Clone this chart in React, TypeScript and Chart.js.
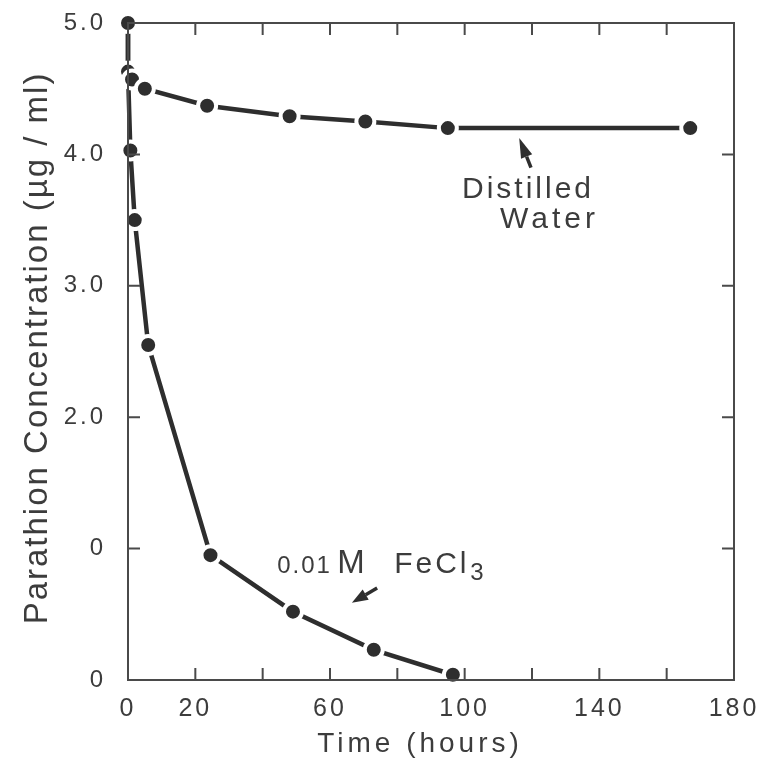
import { useEffect, useRef } from 'react';
import { Chart, registerables } from 'chart.js';

Chart.register(...registerables);

// Time (hours) and parathion concentration (µg/ml)
const waterTime = [0, 0, 1.2, 5, 23.5, 48, 70.5, 95, 167];
const waterConc = [5.0, 4.63, 4.57, 4.5, 4.37, 4.29, 4.25, 4.2, 4.2];
const ferricTime = [0, 0, 0.7, 2, 6, 24.5, 49, 73, 96.5];
const ferricConc = [5.0, 4.63, 4.03, 3.5, 2.55, 0.95, 0.52, 0.23, 0.04];

const xTickLabels = ['0', '20', '', '60', '', '100', '', '140', '', '180'];
const yTickLabels = ['0', '0', '2.0', '3.0', '4.0', '5.0'];

const INK = '#2e2e2e';
const TEXT = '#3c3c3c';
const FONT = "'Liberation Sans', Arial, sans-serif";

function drawArrow(ctx: CanvasRenderingContext2D, fx: number, fy: number, tx: number, ty: number, headLen: number, headW: number) {
  const ang = Math.atan2(ty - fy, tx - fx);
  const bx = tx - Math.cos(ang) * headLen;
  const by = ty - Math.sin(ang) * headLen;
  ctx.beginPath();
  ctx.moveTo(fx, fy);
  ctx.lineTo(bx, by);
  ctx.lineWidth = 3.5;
  ctx.strokeStyle = INK;
  ctx.stroke();
  ctx.beginPath();
  ctx.moveTo(tx, ty);
  ctx.lineTo(bx + Math.sin(ang) * headW / 2, by - Math.cos(ang) * headW / 2);
  ctx.lineTo(bx - Math.sin(ang) * headW / 2, by + Math.cos(ang) * headW / 2);
  ctx.closePath();
  ctx.fillStyle = INK;
  ctx.fill();
}

const spacingPlugin = {
  id: 'spacing',
  beforeDraw(chart: any) {
    chart.ctx.letterSpacing = '3px';
  },
  afterDraw(chart: any) {
    chart.ctx.letterSpacing = '0px';
  },
};

const decorPlugin = {
  id: 'decor',
  afterDatasetsDraw(chart: any) {
    const { ctx, chartArea: a, scales } = chart;
    const xs = scales.x;
    const ys = scales.y;
    ctx.save();
    // frame
    ctx.strokeStyle = '#4a4a4a';
    ctx.lineWidth = 2;
    ctx.strokeRect(a.left, a.top, a.right - a.left, a.bottom - a.top);
    // inward ticks
    ctx.beginPath();
    xs.ticks.forEach((t: any) => {
      if (t.value <= xs.min || t.value >= xs.max) return;
      const px = xs.getPixelForValue(t.value);
      ctx.moveTo(px, a.bottom);
      ctx.lineTo(px, a.bottom - 12);
      ctx.moveTo(px, a.top);
      ctx.lineTo(px, a.top + 12);
    });
    ys.ticks.forEach((t: any) => {
      if (t.value <= ys.min || t.value >= ys.max) return;
      const py = ys.getPixelForValue(t.value);
      ctx.moveTo(a.left, py);
      ctx.lineTo(a.left + 12, py);
      ctx.moveTo(a.right, py);
      ctx.lineTo(a.right - 12, py);
    });
    ctx.stroke();

    // axis titles
    ctx.fillStyle = TEXT;
    ctx.letterSpacing = '4px';
    ctx.font = `28px ${FONT}`;
    ctx.textAlign = 'center';
    ctx.textBaseline = 'alphabetic';
    ctx.fillText('Time (hours)', 420, 752);

    ctx.save();
    ctx.translate(47, 348);
    ctx.rotate(-Math.PI / 2);
    ctx.letterSpacing = '2px';
    ctx.font = `33px ${FONT}`;
    ctx.fillText('Parathion Concentration (µg / ml)', 0, 0);
    ctx.restore();

    // annotations
    ctx.textAlign = 'left';
    ctx.letterSpacing = '3px';
    ctx.font = `30px ${FONT}`;
    ctx.fillText('Distilled', xs.getPixelForValue(99.2), ys.getPixelForValue(3.67));
    ctx.letterSpacing = '4px';
    ctx.fillText('Water', xs.getPixelForValue(110.5), ys.getPixelForValue(3.44));

    const fx = xs.getPixelForValue(44.3);
    const fy = ys.getPixelForValue(0.814);
    ctx.letterSpacing = '2px';
    ctx.font = `24px ${FONT}`;
    ctx.fillText('0.01', fx, fy);
    ctx.letterSpacing = '0px';
    ctx.font = `33px ${FONT}`;
    ctx.fillText('M', fx + 60, fy);
    ctx.letterSpacing = '3px';
    ctx.font = `30px ${FONT}`;
    ctx.fillText('FeCl', fx + 117, fy);
    ctx.letterSpacing = '0px';
    ctx.font = `24px ${FONT}`;
    ctx.fillText('3', fx + 193, fy + 7);

    drawArrow(ctx, xs.getPixelForValue(119.7), ys.getPixelForValue(3.9), xs.getPixelForValue(116.2), ys.getPixelForValue(4.125), 20, 12);
    drawArrow(ctx, xs.getPixelForValue(74), ys.getPixelForValue(0.7), xs.getPixelForValue(66.5), ys.getPixelForValue(0.588), 16, 12);

    ctx.restore();
  },
};

export default function App() {
  const ref = useRef<HTMLCanvasElement | null>(null);

  useEffect(() => {
    if (!ref.current) return;
    const toPts = (xs: number[], ys: number[]) => xs.map((x, i) => ({ x, y: ys[i] }));
    const common = {
      showLine: true,
      borderColor: INK,
      borderWidth: 4.5,
      pointRadius: 9,
      pointBorderWidth: 4,
      pointBackgroundColor: INK,
      pointBorderColor: '#ffffff',
      pointHoverRadius: 9,
      clip: false as const,
      tension: 0,
    };
    const chart = new Chart(ref.current, {
      type: 'scatter',
      data: {
        datasets: [
          { label: 'Distilled Water', data: toPts(waterTime, waterConc), ...common },
          { label: '0.01M FeCl3', data: toPts(ferricTime, ferricConc), ...common },
        ],
      },
      options: {
        animation: false,
        responsive: false,
        maintainAspectRatio: false,
        layout: { padding: { top: 23, right: 30, left: 0, bottom: 0 } },
        plugins: { legend: { display: false }, tooltip: { enabled: false } },
        scales: {
          x: {
            type: 'linear',
            min: 0,
            max: 180,
            grid: { display: false, drawTicks: false },
            border: { display: false },
            ticks: {
              stepSize: 20,
              padding: 14,
              autoSkip: false,
              maxRotation: 0,
              color: TEXT,
              font: { family: FONT, size: 25 },
              callback: (v: any) => xTickLabels[Math.round(Number(v) / 20)] ?? '',
            },
            afterFit: (s: any) => {
              s.height = 78;
              s.paddingLeft = 0;
              s.paddingRight = 0;
            },
          },
          y: {
            type: 'linear',
            min: 0,
            max: 5,
            grid: { display: false, drawTicks: false },
            border: { display: false },
            ticks: {
              stepSize: 1,
              padding: 22,
              color: TEXT,
              font: { family: FONT, size: 24 },
              callback: (v: any) => yTickLabels[Math.round(Number(v))] ?? '',
            },
            afterFit: (s: any) => {
              s.width = 128;
              s.paddingTop = 0;
              s.paddingBottom = 0;
            },
          },
        },
      },
      plugins: [spacingPlugin, decorPlugin],
    });
    return () => chart.destroy();
  }, []);

  return (
    <div style={{ position: 'fixed', left: 0, top: 0, width: 764, height: 758, background: '#fff' }}>
      <canvas ref={ref} width={764} height={758} />
    </div>
  );
}
